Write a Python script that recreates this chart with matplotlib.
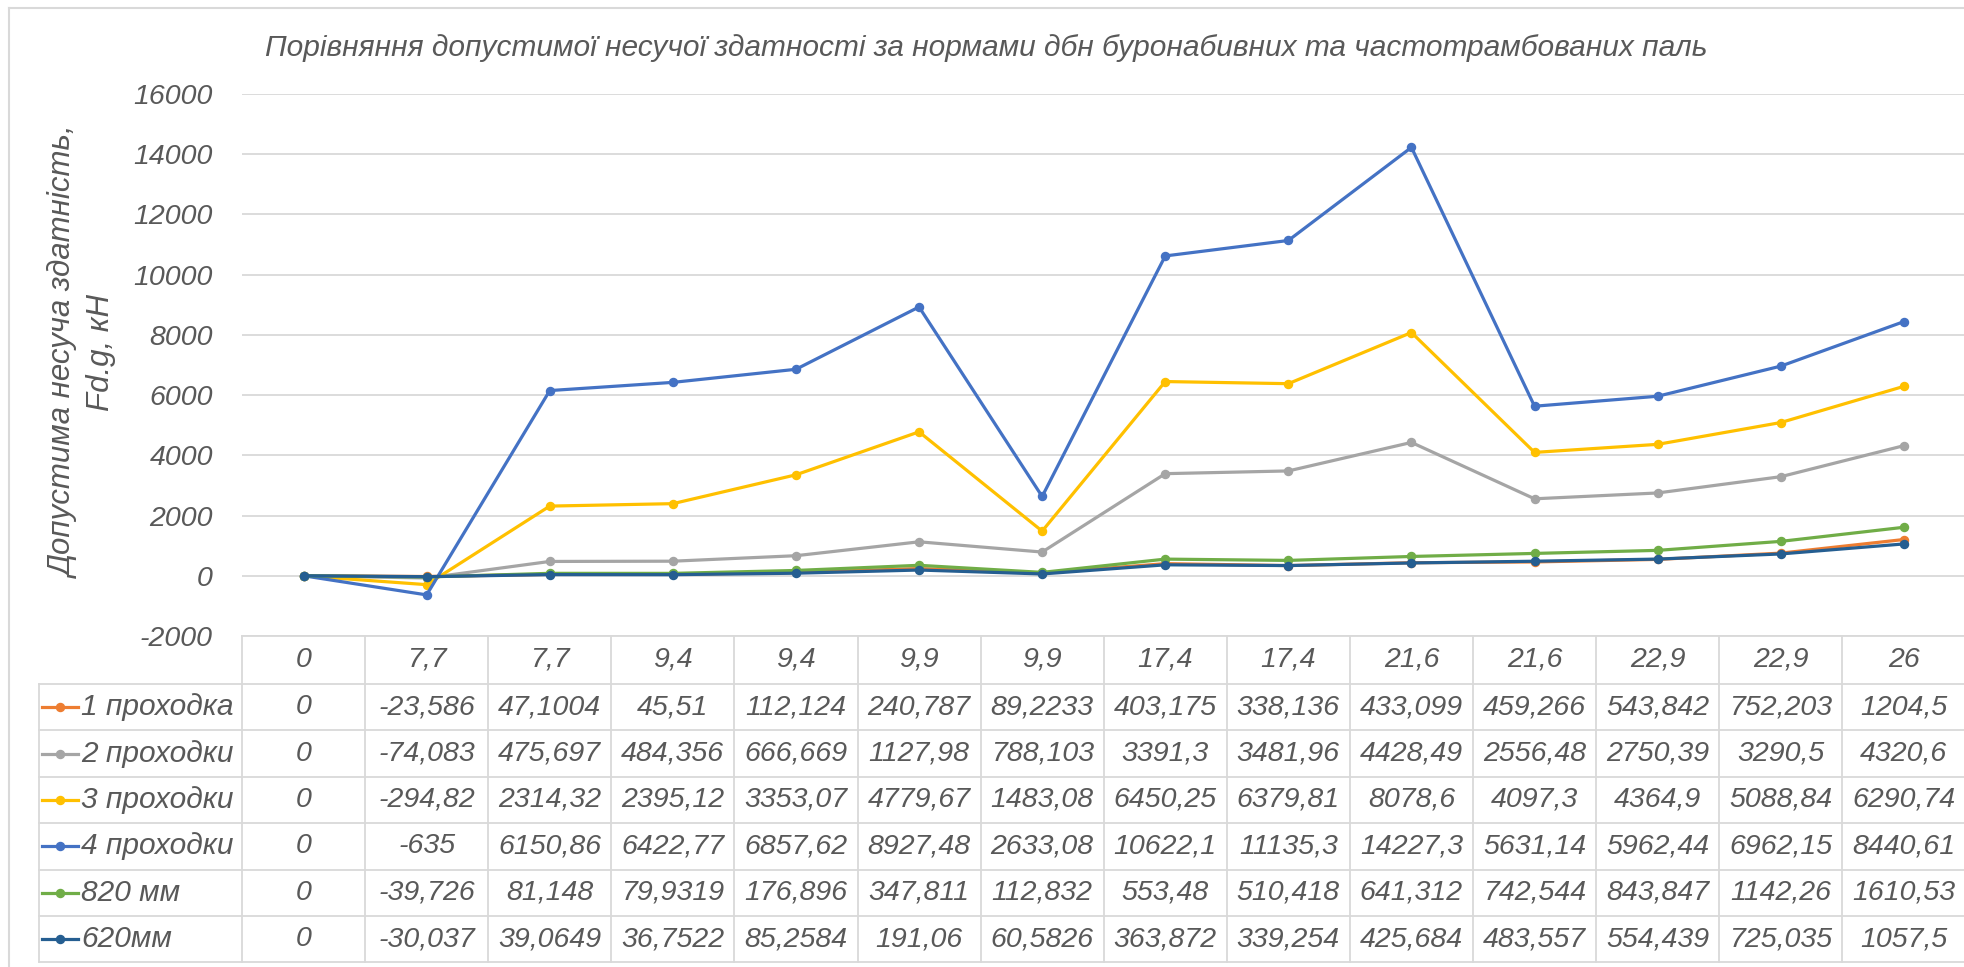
import matplotlib
matplotlib.use("Agg")
import matplotlib.pyplot as plt
from matplotlib.lines import Line2D
from matplotlib.transforms import blended_transform_factory
import numpy as np

# ---- data -------------------------------------------------------------
categories = ['0', '7,7', '7,7', '9,4', '9,4', '9,9', '9,9',
              '17,4', '17,4', '21,6', '21,6', '22,9', '22,9', '26']

series_names = ['1 проходка', '2 проходки', '3 проходки', '4 проходки',
                '820 мм', '620мм']

pass_1 = [0, -23.586, 47.1004, 45.51, 112.124, 240.787, 89.2233, 403.175,
          338.136, 433.099, 459.266, 543.842, 752.203, 1204.5]
pass_2 = [0, -74.083, 475.697, 484.356, 666.669, 1127.98, 788.103, 3391.3,
          3481.96, 4428.49, 2556.48, 2750.39, 3290.5, 4320.6]
pass_3 = [0, -294.82, 2314.32, 2395.12, 3353.07, 4779.67, 1483.08, 6450.25,
          6379.81, 8078.6, 4097.3, 4364.9, 5088.84, 6290.74]
pass_4 = [0, -635, 6150.86, 6422.77, 6857.62, 8927.48, 2633.08, 10622.1,
          11135.3, 14227.3, 5631.14, 5962.44, 6962.15, 8440.61]
pile_820 = [0, -39.726, 81.148, 79.9319, 176.896, 347.811, 112.832, 553.48,
            510.418, 641.312, 742.544, 843.847, 1142.26, 1610.53]
pile_620 = [0, -30.037, 39.0649, 36.7522, 85.2584, 191.06, 60.5826, 363.872,
            339.254, 425.684, 483.557, 554.439, 725.035, 1057.5]

series_values = [pass_1, pass_2, pass_3, pass_4, pile_820, pile_620]
series_colors = ['#ED7D31', '#A5A5A5', '#FFC000', '#4472C4', '#70AD47', '#255E91']

title = ('Порівняння допустимої несучої здатності за нормами дбн '
         'буронабивних та частотрамбованих паль')
y_label = 'Допустима несуча здатність,\nFd.g, кН'

# ---- style --------------------------------------------------------------
plt.rcParams['font.family'] = ['Liberation Sans', 'DejaVu Sans']
plt.rcParams['font.style'] = 'italic'
TEXT = '#595959'
GRID = '#D9D9D9'
FS = 20.5

W, H, DPI = 1964, 967, 100
fig = plt.figure(figsize=(W / DPI, H / DPI), dpi=DPI, facecolor='white')


def fx(px):
    return px / W


def fy(py):
    return 1 - py / H


# plot area in pixel coordinates
left_px, right_px = 242, 1965.4
top_px, bottom_px = 94, 636
ax = fig.add_axes([fx(left_px), fy(bottom_px),
                   fx(right_px - left_px), (bottom_px - top_px) / H])
ax.set_facecolor('none')

x = np.arange(len(categories))
for vals, col in zip(series_values, series_colors):
    ax.plot(x, vals, color=col, lw=2.3, marker='o', ms=5.8,
            solid_joinstyle='round', zorder=3)

ax.set_xlim(-0.5, len(categories) - 0.5)
ax.set_ylim(-2000, 16000)
ax.set_yticks(range(-2000, 16001, 2000))
ax.set_yticklabels([str(v) for v in range(-2000, 16001, 2000)])
ax.tick_params(axis='y', length=0, pad=21, labelsize=FS, labelcolor=TEXT)
ax.set_xticks([])
ax.grid(axis='y', color=GRID, lw=1.3)
ax.set_axisbelow(True)
for s in ax.spines.values():
    s.set_visible(False)

# ---- chart frame, title, axis label --------------------------------------
fig.add_artist(Line2D([fx(9), fx(9)], [fy(8), fy(H)], color=GRID, lw=1.5))
fig.add_artist(Line2D([fx(9), fx(W)], [fy(8), fy(8)], color=GRID, lw=1.5))

fig.text(fx(986), fy(48), title, ha='center', va='center',
         fontsize=21.5, color=TEXT)
fig.text(fx(83), fy(352), y_label, ha='center', va='center',
         rotation=90, fontsize=22.5, color=TEXT, multialignment='center',
         linespacing=1.3)

# ---- data table below the plot -------------------------------------------
tr = blended_transform_factory(ax.transData, fig.transFigure)
header_top, header_bot = 636, 684
row_h = 46.4
n_rows = len(series_names)
row_edges = [header_bot + k * row_h for k in range(n_rows + 1)]
table_bot = row_edges[-1]
legend_left = 39
x_right = len(categories) - 0.5

# horizontal rules
fig.add_artist(Line2D([-0.5, x_right], [fy(header_top)] * 2, transform=tr,
                      color=GRID, lw=1.3))
for yy in row_edges:
    fig.add_artist(Line2D([fx(legend_left), 1.01], [fy(yy)] * 2,
                          color=GRID, lw=1.3))
# vertical rules
for i in range(len(categories) + 1):
    fig.add_artist(Line2D([i - 0.5, i - 0.5], [fy(header_top), fy(table_bot)],
                          transform=tr, color=GRID, lw=1.3))
fig.add_artist(Line2D([fx(legend_left)] * 2, [fy(header_bot), fy(table_bot)],
                      color=GRID, lw=1.3))


def fmt(v):
    s = '%.6g' % v
    return s.replace('.', ',')


# header: category labels
for i, c in enumerate(categories):
    fig.text(i, fy((header_top + header_bot) / 2), c, transform=tr,
             ha='center', va='center', fontsize=FS, color=TEXT)

# rows: legend key + values
for r, (name, vals, col) in enumerate(zip(series_names, series_values,
                                            series_colors)):
    yc = fy((row_edges[r] + row_edges[r + 1]) / 2)
    fig.add_artist(Line2D([fx(42), fx(78)], [yc, yc], color=col, lw=2.3))
    fig.add_artist(Line2D([fx(60)], [yc], color=col, marker='o', ms=5.8,
                          lw=0))
    fig.text(fx(81), yc, name, ha='left', va='center', fontsize=21.5,
             color=TEXT)
    for i, v in enumerate(vals):
        fig.text(i, yc, fmt(v), transform=tr, ha='center', va='center',
                 fontsize=FS, color=TEXT)

fig.savefig('out.png', dpi=DPI, facecolor='white')
